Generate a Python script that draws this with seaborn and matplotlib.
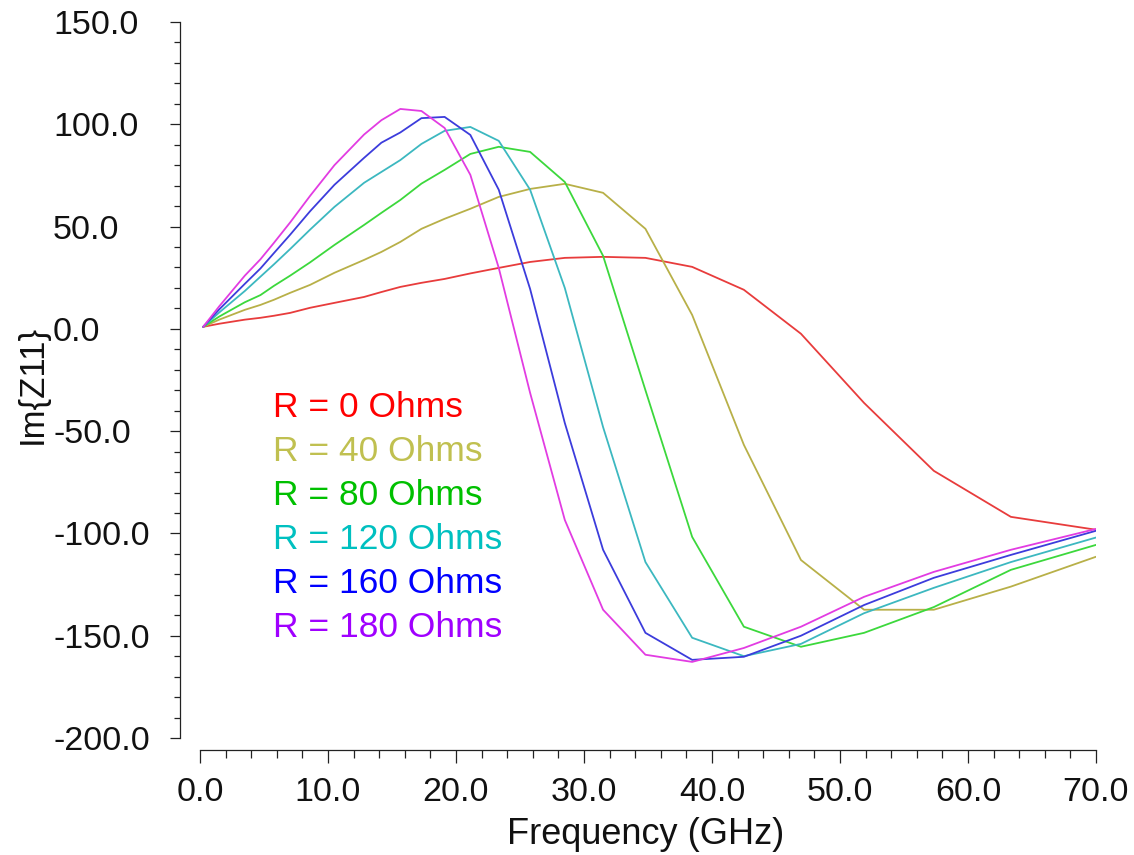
import matplotlib
matplotlib.use("Agg")
import matplotlib.pyplot as plt
import seaborn as sns
import pandas as pd
from matplotlib.ticker import MultipleLocator, FuncFormatter

# ---- data ----
freq_ghz = [0.25, 1.5, 3.5, 4.72, 5.77, 7.04, 8.6, 10.5, 12.82, 14.17, 15.65, 17.3,
            19.11, 21.12, 23.34, 25.79, 28.5, 31.49, 34.8, 38.45, 42.49, 46.95,
            51.88, 57.33, 63.35, 70.0]

im_r0 = [1, 2.5, 4.5, 5.4, 6.4, 7.8, 10.3, 12.7, 15.6, 18, 20.5, 22.5, 24.4, 27.1,
         29.8, 32.7, 34.7, 35.2, 34.7, 30.3, 19.1, -2.4, -36.2, -69.4, -91.9, -98.2]
im_r40 = [1, 4.5, 9.3, 11.7, 14.2, 17.6, 21.5, 27.4, 33.7, 37.6, 42.5, 48.9, 53.8,
          58.7, 64.5, 68.4, 70.9, 66.5, 48.9, 6.8, -56.7, -113, -137.3, -137.3,
          -126, -111.4]
im_r80 = [1, 6, 13, 16.5, 21, 26, 32.5, 41, 50.8, 56.7, 63, 71, 77.7, 85.5, 89,
          86.5, 71.8, 35.7, -30, -101.7, -145.6, -155.4, -148.6, -136, -117.8, -105.6]
im_r120 = [1, 8, 18.5, 25.5, 31.5, 39, 48.5, 59.6, 71.4, 76.7, 82.5, 90.4, 96.8,
           98.7, 91.9, 68, 20, -48, -114, -151, -160, -154, -139, -126.6, -114, -102]
im_r160 = [1, 9.5, 22, 29.5, 37, 46, 57.5, 70.4, 83.6, 91, 96, 103, 103.6, 94.8,
           68, 19.5, -46, -108, -148.6, -161.8, -160.3, -150, -135, -121.7, -110.5,
           -98.7]
im_r180 = [1, 11, 26, 34, 42, 52, 65, 80, 95, 102, 107.5, 106.5, 98.2, 75.3, 29.8,
           -31.3, -93.4, -137.3, -159.3, -162.8, -156, -145.6, -131, -118.8, -108,
           -97.8]

series_labels = ["R = 0 Ohms", "R = 40 Ohms", "R = 80 Ohms",
                 "R = 120 Ohms", "R = 160 Ohms", "R = 180 Ohms"]
series_values = [im_r0, im_r40, im_r80, im_r120, im_r160, im_r180]

line_colors = ["#e83c3c", "#b8b048", "#3cd83c", "#3cb8c0", "#3c3cdc", "#e23ce2"]
text_colors = ["#ff0000", "#c0c050", "#00c000", "#00c0c0", "#0000ff", "#a000ff"]

x_label = "Frequency (GHz)"
y_label = "Im{Z11}"

rows = []
for lab, vals in zip(series_labels, series_values):
    for f, v in zip(freq_ghz, vals):
        rows.append({"Frequency": f, "Im": v, "Series": lab})
df = pd.DataFrame(rows)

# ---- style ----
sns.set_style("white")
plt.rcParams["font.family"] = ["Liberation Sans", "DejaVu Sans"]

W, H = 1134, 855
fig = plt.figure(figsize=(W / 100, H / 100), dpi=100)
ax = fig.add_axes([200 / W, 117 / H, 896 / W, 716 / H])

sns.lineplot(data=df, x="Frequency", y="Im", hue="Series", hue_order=series_labels,
             palette=line_colors, linewidth=1.3, ax=ax, sort=False, legend=True)

ax.set_xlim(0, 70)
ax.set_ylim(-200, 150)

for s in ("top", "right"):
    ax.spines[s].set_visible(False)
ax.spines["left"].set_position(("outward", 14.4))
ax.spines["bottom"].set_position(("outward", 8.64))
for s in ("left", "bottom"):
    ax.spines[s].set_color("#222222")
    ax.spines[s].set_linewidth(0.9)

ax.xaxis.set_major_locator(MultipleLocator(10))
ax.xaxis.set_minor_locator(MultipleLocator(2))
ax.yaxis.set_major_locator(MultipleLocator(50))
ax.yaxis.set_minor_locator(MultipleLocator(10))
fmt = FuncFormatter(lambda v, p: f"{v:.1f}")
ax.xaxis.set_major_formatter(fmt)
ax.yaxis.set_major_formatter(fmt)

ax.tick_params(axis="x", which="major", direction="out", length=9.4, width=0.9,
               pad=9.8, labelsize=24.5, colors="#222222", labelcolor="#111111",
               bottom=True)
ax.tick_params(axis="x", which="minor", direction="out", length=5.5, width=0.9,
               colors="#222222", bottom=True)
ax.tick_params(axis="y", which="major", direction="out", length=7.2, width=0.9,
               pad=84.2, labelsize=24.5, colors="#222222", labelcolor="#111111",
               left=True)
ax.tick_params(axis="y", which="minor", direction="out", length=4.3, width=0.9,
               colors="#222222", left=True)
for t in ax.get_yticklabels():
    t.set_horizontalalignment("left")

ax.set_xlabel(x_label, fontsize=26, color="#111111")
ax.xaxis.set_label_coords(0.497, -0.1098)
ax.set_ylabel(y_label, fontsize=25, color="#111111")
ax.yaxis.set_label_coords(-0.1685, 0.494)

leg = ax.legend(loc="upper left", bbox_to_anchor=(0.0815, 0.485), frameon=False,
                handlelength=0, handletextpad=0, borderpad=0, borderaxespad=0,
                labelspacing=0.31, fontsize=25.5)
for h in leg.legend_handles:
    h.set_visible(False)
for t, c in zip(leg.get_texts(), text_colors):
    t.set_color(c)

fig.savefig("out.png", dpi=100)
